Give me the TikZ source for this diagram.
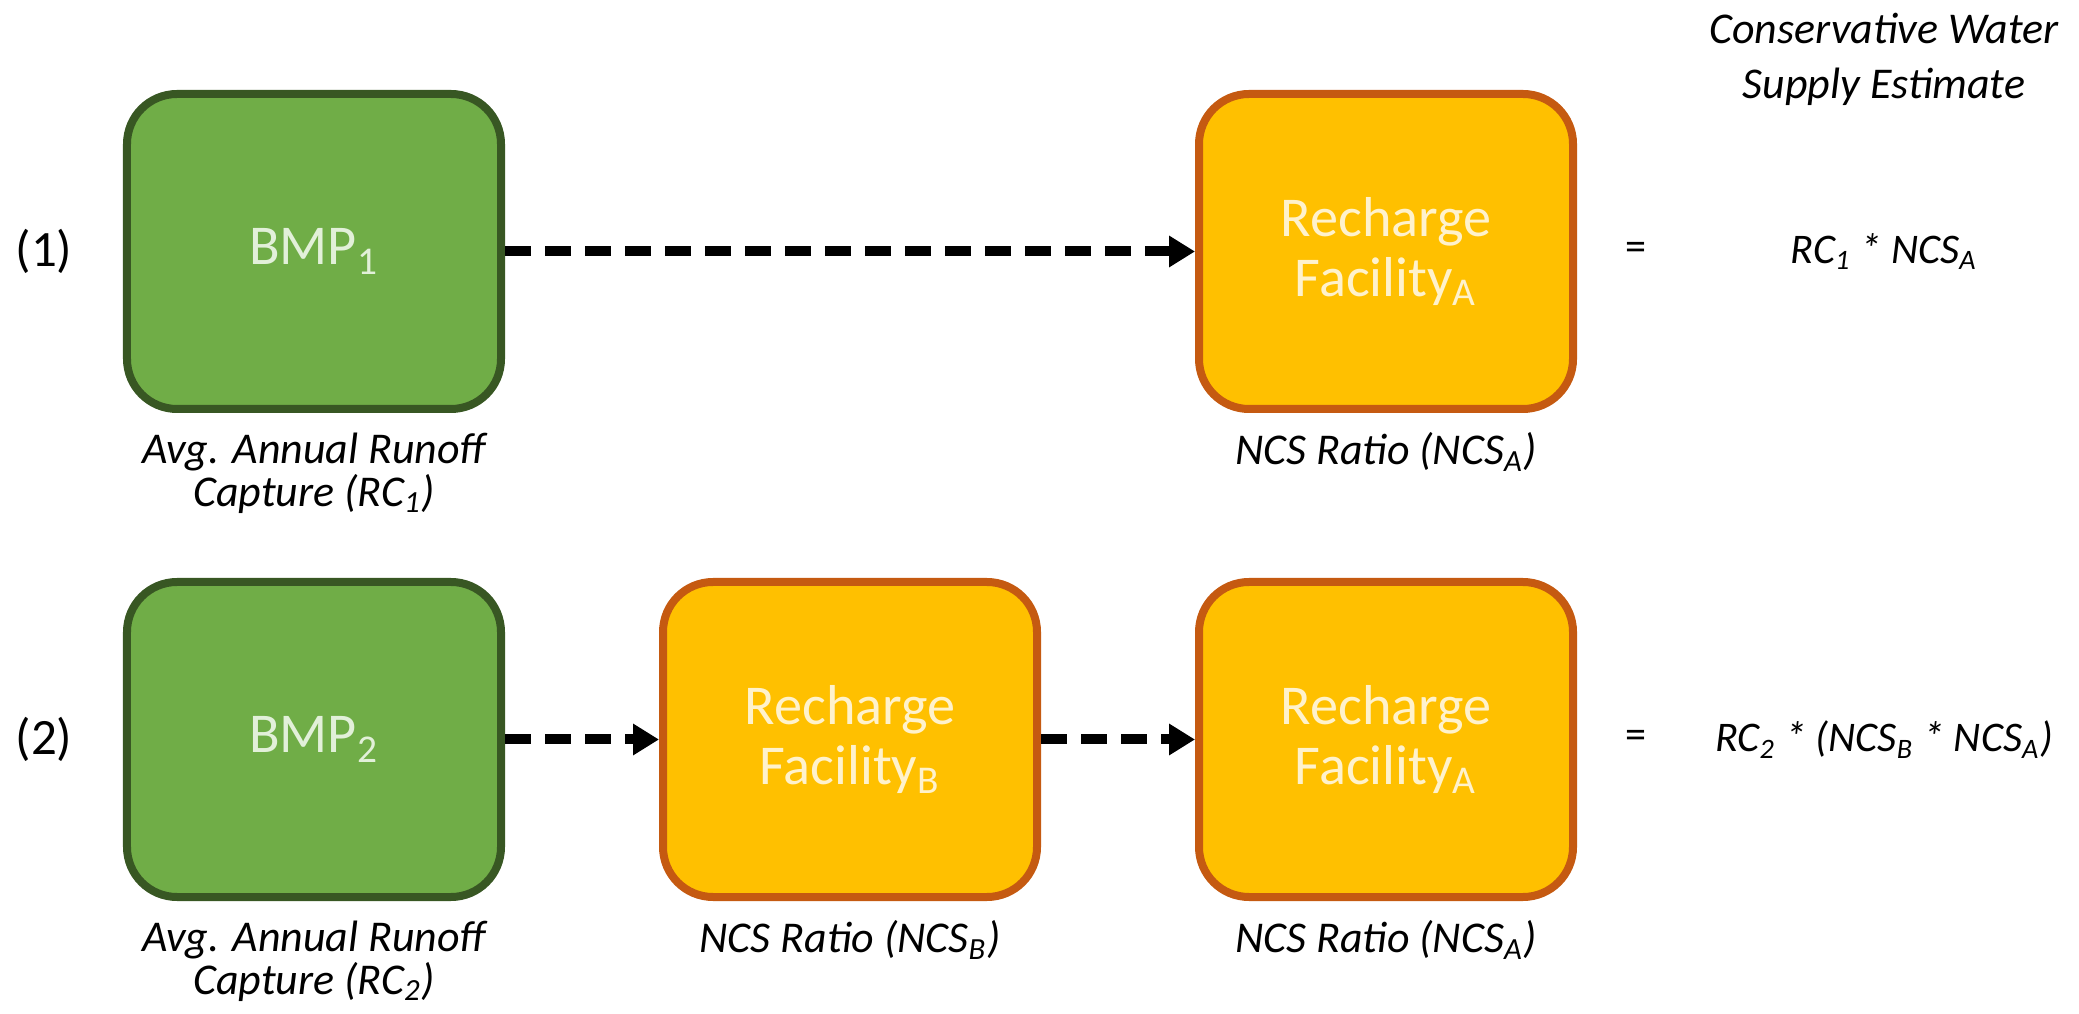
\documentclass[tikz,border=0pt]{standalone}
\usepackage{fontspec}
\setmainfont{Carlito}
\usepackage{xcolor}
\usetikzlibrary{arrows.meta,positioning}
\definecolor{bmpgreen}{HTML}{70AD47}
\definecolor{bmpdark}{HTML}{385723}
\definecolor{facilityorange}{HTML}{FFC000}
\definecolor{facilitydark}{HTML}{C55A11}
\definecolor{bmptext}{HTML}{E2F0D9}
\definecolor{facilitytext}{HTML}{FFF2CC}

\begin{document}
\begin{tikzpicture}[node distance=5.36cm]
	\tikzstyle{bmp} = [rectangle, rounded corners=0.5cm, minimum width=3.74cm, 
	minimum height=3.15cm, text centered, line width=0.08cm, draw=bmpdark, fill=bmpgreen, 
	text=bmptext, font=\fontsize{16}{17}\selectfont]
	\tikzstyle{facility} = [rectangle, rounded corners=0.5cm, minimum width=3.74cm, 
	minimum height=3.15cm, align=center, line width=0.08cm, draw=facilitydark, 
	fill=facilityorange, text=facilitytext, font=\fontsize{16}{17}\selectfont]
	\tikzstyle{caption} = [inner sep=0pt, align=center, font=\fontsize{12.5}{10.5}\selectfont\itshape]
	\tikzstyle{formula} = [font=\fontsize{12}{14}\selectfont\itshape]
	\tikzstyle{arrow} = [line width=0.1cm, dash pattern=on 0.26cm off 0.14cm, 
	-{Triangle[length=0.26cm, width=0.3cm]}]
	\useasboundingbox (-3.14,2.515) rectangle (17.65,-7.625);
	% case (1)
	\node (bmpOne) [bmp] {BMP\textsubscript{1}};
	\node (rechargeAOne) [facility, right of=bmpOne, xshift=5.36cm] {Recharge\\Facility\textsubscript{A}};
	\node (rowOne) [node distance=2.7cm, left of=bmpOne, font=\fontsize{14.5}{16}\selectfont] {(1)};
	\node (bmpOneCaption) [caption, below=0.19cm of bmpOne] {Avg. Annual Runoff\\Capture (RC\textsubscript{1})};
	\node (rechargeAOneCaption) [caption, below=0.19cm of rechargeAOne] {NCS Ratio (NCS\textsubscript{A})};
	\node (equalsOne) [node distance=2.5cm, right of=rechargeAOne, font=\fontsize{12}{14}\selectfont] {=};
	\node (estimateOne) [formula, node distance=2.48cm, right of=equalsOne] {RC\textsubscript{1} * NCS\textsubscript{A}};
	\node (estimateTitle) [caption, node distance=1.92cm, above of=estimateOne, 
	font=\fontsize{12.5}{15.6}\selectfont\itshape] {Conservative Water\\Supply Estimate};
	% case (2)
	\node (bmpTwo) [bmp, below of=bmpOne, yshift=0.48cm] {BMP\textsubscript{2}};
	\node (rechargeB) [facility, right of=bmpTwo] {Recharge\\Facility\textsubscript{B}};
	\node (rechargeATwo) [facility, right of=rechargeB] {Recharge\\Facility\textsubscript{A}};
	\node (rowTwo) [node distance=2.7cm, left of=bmpTwo, font=\fontsize{14.5}{16}\selectfont] {(2)};
	\node (bmpTwoCaption) [caption, below=0.19cm of bmpTwo] {Avg. Annual Runoff\\Capture (RC\textsubscript{2})};
	\node (rechargeBCaption) [caption, below=0.19cm of rechargeB] {NCS Ratio (NCS\textsubscript{B})};
	\node (rechargeATwoCaption) [caption, below=0.19cm of rechargeATwo] {NCS Ratio (NCS\textsubscript{A})};
	\node (equalsTwo) [node distance=2.5cm, right of=rechargeATwo, font=\fontsize{12}{14}\selectfont] {=};
	\node (estimateTwo) [formula, node distance=2.48cm, right of=equalsTwo] {RC\textsubscript{2} * (NCS\textsubscript{B} * NCS\textsubscript{A})};
	\draw [arrow] (bmpOne) -- (rechargeAOne);
	\draw [arrow] (bmpTwo) -- (rechargeB);
	\draw [arrow] (rechargeB) -- (rechargeATwo);
\end{tikzpicture}
\end{document}
